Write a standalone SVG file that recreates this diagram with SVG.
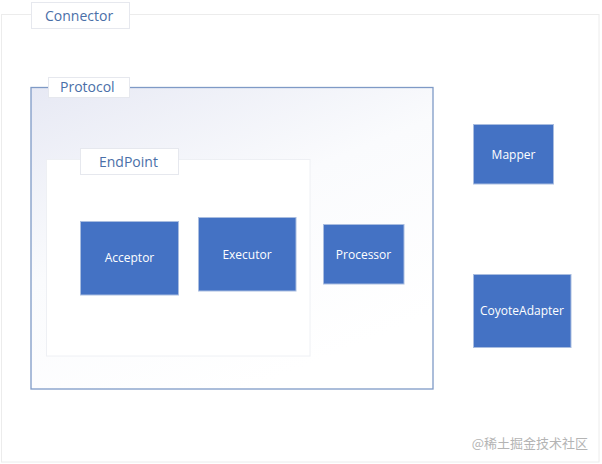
<svg xmlns="http://www.w3.org/2000/svg" width="602" height="464" viewBox="0 0 602 464">
<defs>
<linearGradient id="pg" x1="0" y1="0" x2="0.55" y2="1">
<stop offset="0" stop-color="#e7e9f4"/>
<stop offset="0.5" stop-color="#fafbfd"/>
<stop offset="1" stop-color="#ffffff"/>
</linearGradient>
<style>
.box{fill:#4472c4;stroke:#a9bde0;stroke-width:1}
.bt{font-family:"Open Sans","Liberation Sans",sans-serif;font-size:12px;fill:#ffffff;text-anchor:middle}
.lb{fill:#ffffff;stroke:#e6e8ee;stroke-width:1}
.lt{font-family:"Open Sans","Liberation Sans",sans-serif;font-size:14px;fill:#4a6fa8}
</style>
</defs>
<rect width="602" height="464" fill="#ffffff"/>
<g id="connector">
<rect x="1.5" y="14.5" width="597.5" height="447.5" fill="#ffffff" stroke="#ececec"/>
<rect class="lb" x="31.5" y="2.5" width="98" height="26"/>
<text class="lt" x="45" y="21">Connector</text>
</g>
<g id="protocol">
<rect x="31" y="87.5" width="402" height="301.5" fill="url(#pg)" stroke="#7f9ac6" stroke-width="1.3"/>
<rect class="lb" x="48.5" y="77.5" width="81" height="20"/>
<text class="lt" x="60" y="92">Protocol</text>
</g>
<g id="endpoint">
<rect x="46.5" y="159.5" width="263.5" height="196.5" fill="#ffffff" stroke="#eef0f4"/>
<rect class="lb" x="80.5" y="148.5" width="98" height="26"/>
<text class="lt" x="99" y="167">EndPoint</text>
</g>
<g id="acceptor">
<rect class="box" x="80.5" y="221.5" width="98" height="73.5"/>
<text class="bt" x="129.5" y="262">Acceptor</text>
</g>
<g id="executor">
<rect class="box" x="198.5" y="217.5" width="97.5" height="73.5"/>
<text class="bt" x="247" y="259">Executor</text>
</g>
<g id="processor">
<rect class="box" x="323.5" y="224.5" width="80.5" height="59.5"/>
<text class="bt" x="363.5" y="259">Processor</text>
</g>
<g id="mapper">
<rect class="box" x="473.5" y="124.5" width="80" height="59.5"/>
<text class="bt" x="513.5" y="159">Mapper</text>
</g>
<g id="coyoteadapter">
<rect class="box" x="473.5" y="274.5" width="97.5" height="73"/>
<text class="bt" x="522" y="315">CoyoteAdapter</text>
</g>
<g id="connectors"></g>
<text x="588" y="448" text-anchor="end" font-family="'Noto Sans CJK SC',sans-serif" font-size="13" fill="#b4b4b4">@稀土掘金技术社区</text>
</svg>
